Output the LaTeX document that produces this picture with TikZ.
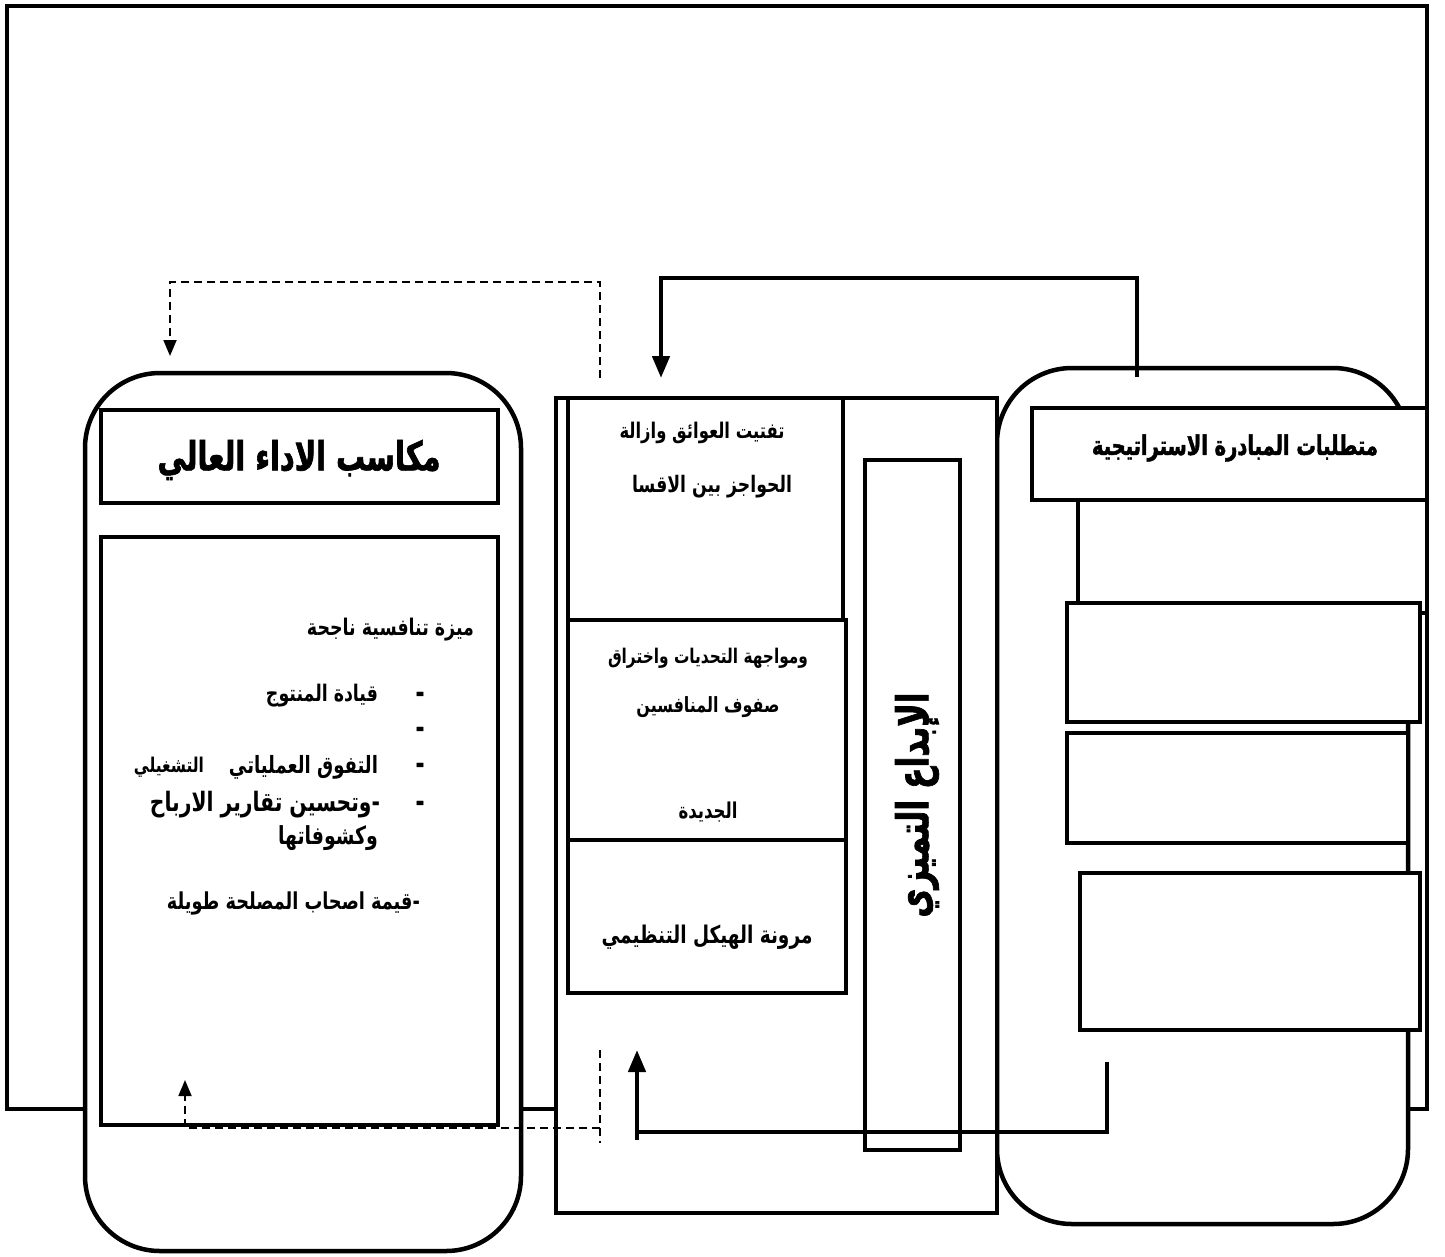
\documentclass[tikz,border=0pt]{standalone}
\usepackage{fontspec}
\usepackage{graphicx}
\usetikzlibrary{arrows.meta}
\newfontfamily\arfont[Script=Arabic, FakeStretch=0.76]{DejaVu Sans}
\newfontfamily\arheavy[Script=Arabic, FakeStretch=0.72, BoldFeatures={FakeBold=1.6}]{DejaVu Sans}
\TeXXeTstate=1
\newcommand{\fw}[2]{\resizebox{#1pt}{!}{\arfont\bfseries #2}}
\newcommand{\fh}[2]{\resizebox{#1pt}{!}{\arheavy\bfseries #2}}
\newcommand{\bdash}{\arheavy\bfseries\fontsize{28}{28}\selectfont -}
\begin{document}
\begin{tikzpicture}[x=1pt,y=-1pt,
  box/.style={draw, line width=4.5pt, fill=white, inner sep=0pt, outer sep=0pt, anchor=north west},
  rbox/.style={box, rounded corners=75pt},
  lbl/.style={inner sep=0pt, outer sep=0pt},
  flow/.style={line width=4.5pt},
  dflow/.style={line width=1.8pt, dash pattern=on 8pt off 5pt},
  tipA/.style={-{Triangle[width=17pt,length=22pt]}},
  tipB/.style={-{Triangle[width=13pt,length=16pt]}}]
\useasboundingbox (0,0) rectangle (1445,1256);
\fill[white] (0,0) rectangle (1445,1256);
% outer frame
\node[box, fill=none, minimum width=1420, minimum height=1103] (frame) at (7,6) {};
% big containers
\node[rbox, minimum width=436, minimum height=878] (lbox) at (85,373) {};
\node[rbox, minimum width=411, minimum height=856] (rbox) at (997,368) {};
\node[box, minimum width=441, minimum height=815] (mbox) at (556,398) {};
% left column
\node[box, minimum width=397, minimum height=93] (ltitle) at (101,410) {};
\node[box, minimum width=397, minimum height=588] (lcont) at (101,537) {};
% middle column
\node[box, minimum width=275, minimum height=222] (m1) at (568,398) {};
\node[box, minimum width=278, minimum height=220] (m2) at (568,620) {};
\node[box, minimum width=278, minimum height=153] (m3) at (568,840) {};
\node[box, minimum width=95, minimum height=690] (tall) at (865,460) {};
% right column
\node[box, minimum width=395, minimum height=92] (rtitle) at (1032,408) {};
\node[box, minimum width=349, minimum height=113] (ra) at (1078,500) {};
\node[box, minimum width=353, minimum height=119] (rb) at (1067,603) {};
\node[box, minimum width=341, minimum height=110] (rc) at (1067,733) {};
\node[box, minimum width=340, minimum height=157] (rd) at (1080,873) {};
% texts
\node[lbl] (hd) at (299,460) {\fh{283}{\beginR مكاسب الاداء العالي\endR}};
\node[lbl, anchor=east] (t1) at (474,630) {\fw{167}{\beginR ميزة تنافسية ناجحة\endR}};
\node[lbl] (d1) at (420,697) {\bdash};
\node[lbl, anchor=east] (t2) at (378,696) {\fw{112}{\beginR قيادة المنتوج\endR}};
\node[lbl] (d2) at (420,732) {\bdash};
\node[lbl] (d3) at (420,768) {\bdash};
\node[lbl, anchor=east] (t3) at (378,767) {\fw{149}{\beginR التفوق العملياتي\endR}};
\node[lbl, anchor=east] (t3b) at (204,767) {\fw{70}{\beginR التشغيلي\endR}};
\node[lbl] (d4) at (420,806) {\bdash};
\node[lbl, anchor=east] (t4) at (380,805) {\fw{230}{\beginR -وتحسين تقارير الارباح\endR}};
\node[lbl, anchor=east] (t5) at (378,838) {\fw{100}{\beginR وكشوفاتها\endR}};
\node[lbl, anchor=east] (t6) at (420,903) {\fw{253}{\beginR -قيمة اصحاب المصلحة طويلة\endR}};
\node[lbl] (m1a) at (702,433) {\fw{165}{\beginR تفتيت العوائق وازالة\endR}};
\node[lbl] (m1b) at (712,487) {\fw{160}{\beginR الحواجز بين الاقسا\endR}};
\node[lbl] (m2a) at (708,658) {\fw{200}{\beginR ومواجهة التحديات واختراق\endR}};
\node[lbl] (m2b) at (708,707) {\fw{143}{\beginR صفوف المنافسين\endR}};
\node[lbl] (m2c) at (708,812) {\fw{59}{\beginR الجديدة\endR}};
\node[lbl] (m3t) at (707,937) {\fw{211}{\beginR مرونة الهيكل التنظيمي\endR}};
\node[lbl, rotate=90] (tallt) at (917,805) {\fh{225}{\beginR الإبداع التميزي\endR}};
\node[lbl] (rt) at (1235,448) {\fh{286}{\beginR متطلبات المبادرة الاستراتيجية\endR}};
% connectors
\coordinate (c1s) at (1137,377);
\coordinate (c1k) at (1137,278);
\coordinate (c1j) at (661,278);
\coordinate (c1t) at (661,378);
\draw[flow, tipA] (c1s) -- (c1k) -- (c1j) -- (c1t);
\coordinate (c2s) at (1107,1062);
\coordinate (c2k) at (1107,1132);
\coordinate (c2j) at (637,1132);
\coordinate (c2b) at (637,1140);
\coordinate (c2t) at (637,1050);
\draw[flow] (c2s) -- (c2k) -- (c2j);
\draw[flow, tipA] (c2b) -- (c2t);
\coordinate (c3s) at (600,378);
\coordinate (c3k) at (600,282);
\coordinate (c3j) at (170,282);
\coordinate (c3t) at (170,356);
\draw[dflow, tipB] (c3s) -- (c3k) -- (c3j) -- (c3t);
\coordinate (c4s) at (600,1050);
\coordinate (c4e) at (600,1143);
\coordinate (c4k) at (600,1128);
\coordinate (c4j) at (185,1128);
\coordinate (c4t) at (185,1080);
\draw[dflow] (c4s) -- (c4e);
\draw[dflow, tipB] (c4k) -- (c4j) -- (c4t);
\end{tikzpicture}
\end{document}
